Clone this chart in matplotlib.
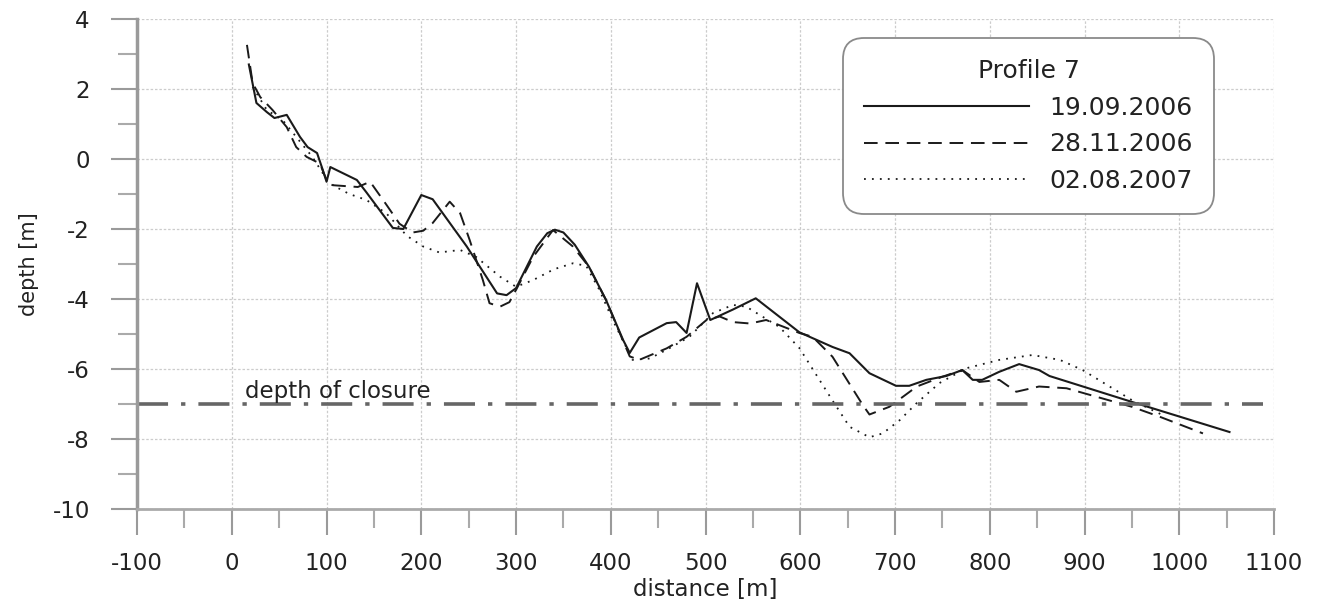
import numpy as np
import matplotlib
matplotlib.use("Agg")
import matplotlib.pyplot as plt
from matplotlib.ticker import MultipleLocator

plt.rcParams["axes.unicode_minus"] = False

# beach profile 7 - three surveys
dist_1 = [18, 26, 37, 45, 58, 72, 80, 90, 96, 100, 104, 132, 142, 170, 181, 200, 212,
          248, 280, 290, 300, 322, 333, 341, 350, 362, 377, 395, 413, 420, 430, 459, 469,
          480, 491, 505, 529, 553, 599, 634, 652, 673, 701, 715, 733, 754, 771, 782, 792,
          810, 831, 852, 863, 950, 1053]
depth_1 = [2.7, 1.6, 1.34, 1.17, 1.26, 0.63, 0.34, 0.17, -0.31, -0.65, -0.23, -0.6, -0.95,
           -1.97, -2.0, -1.03, -1.15, -2.5, -3.84, -3.89, -3.69, -2.5, -2.12, -2.02, -2.1,
           -2.45, -3.08, -4.03, -5.17, -5.54, -5.1, -4.69, -4.66, -4.97, -3.55, -4.6, -4.3,
           -3.98, -4.95, -5.37, -5.55, -6.12, -6.48, -6.48, -6.31, -6.2, -6.03, -6.31,
           -6.31, -6.08, -5.86, -6.03, -6.2, -6.94, -7.8]

dist_2 = [16, 22, 30, 43, 58, 68, 79, 93, 100, 107, 133, 146, 163, 177, 191, 202, 212,
          230, 241, 251, 265, 272, 283, 293, 300, 318, 339, 360, 377, 395, 413, 420, 430,
          459, 480, 501, 515, 529, 547, 564, 599, 613, 634, 666, 673, 694, 723, 750, 771,
          789, 810, 828, 852, 881, 950, 979, 1025]
depth_2 = [3.26, 2.17, 1.77, 1.4, 0.91, 0.34, 0.06, -0.13, -0.6, -0.75, -0.8, -0.65, -1.3,
           -1.85, -2.1, -2.05, -1.83, -1.22, -1.55, -2.31, -3.46, -4.12, -4.22, -4.09,
           -3.74, -2.8, -2.03, -2.5, -3.08, -4.03, -5.2, -5.64, -5.74, -5.41, -5.08, -4.6,
           -4.5, -4.66, -4.7, -4.6, -4.97, -5.08, -5.65, -7.03, -7.3, -7.08, -6.5, -6.22,
           -6.03, -6.37, -6.31, -6.65, -6.5, -6.55, -7.08, -7.36, -7.84]

dist_3 = [22, 37, 54, 85, 103, 124, 142, 163, 185, 202, 219, 241, 258, 283, 300, 318,
          340, 360, 374, 388, 402, 423, 441, 459, 483, 508, 529, 543, 578, 599, 634, 652,
          673, 687, 705, 723, 747, 775, 810, 845, 874, 898, 950, 985]
depth_3 = [2.06, 1.4, 1.1, 0.06, -0.7, -1.0, -1.17, -1.55, -2.2, -2.5, -2.67, -2.6, -2.8,
           -3.36, -3.65, -3.46, -3.15, -2.98, -3.05, -3.74, -4.6, -5.74, -5.7, -5.45,
           -5.08, -4.4, -4.17, -4.22, -4.8, -5.4, -6.9, -7.65, -7.95, -7.84, -7.46, -6.97,
           -6.4, -5.98, -5.74, -5.6, -5.74, -6.03, -6.89, -7.35]

labels = ["19.09.2006", "28.11.2006", "02.08.2007"]
closure_depth = -7
closure_x = [-100, 1088]

fs = 16.5
txt = "#222222"

fig = plt.figure(figsize=(13.19, 6.08), dpi=100)
ax = fig.add_axes([0.1039, 0.1628, 0.862, 0.806])

ax.plot(dist_1, depth_1, color="#1a1a1a", lw=1.5, ls="-", label=labels[0])
ax.plot(dist_2, depth_2, color="#1a1a1a", lw=1.4, dashes=(7, 4), label=labels[1])
ax.plot(dist_3, depth_3, color="#1a1a1a", lw=1.3, dashes=(1, 3.4), label=labels[2])

ax.plot(closure_x, [closure_depth, closure_depth], color="#666666", lw=2.6,
        dashes=(8.6, 3.6, 1.2, 3.6))
ax.text(14, -6.83, "depth of closure", fontsize=fs, color=txt, va="baseline")

ax.set_xlim(-100, 1100)
ax.set_ylim(-10, 4)
ax.xaxis.set_major_locator(MultipleLocator(100))
ax.xaxis.set_minor_locator(MultipleLocator(50))
ax.yaxis.set_major_locator(MultipleLocator(2))
ax.yaxis.set_minor_locator(MultipleLocator(1))

ax.grid(True, which="major", color="#cccccc", lw=0.9, ls=(0, (2, 1.5)))
ax.set_axisbelow(True)

for s in ["top", "right"]:
    ax.spines[s].set_visible(False)
ax.spines["left"].set_color("#9a9a9a")
ax.spines["left"].set_linewidth(2.5)
ax.spines["bottom"].set_color("#aaaaaa")
ax.spines["bottom"].set_linewidth(2)

ax.tick_params(which="major", direction="out", length=19, width=1.5, color="#9a9a9a",
               labelsize=fs, labelcolor=txt)
ax.tick_params(axis="y", which="major", pad=15)
ax.tick_params(axis="x", which="major", pad=12)
ax.tick_params(which="minor", direction="out", length=14, width=1.5, color="#aaaaaa")

ax.set_xlabel("distance [m]", fontsize=fs, color=txt, labelpad=2)
ax.set_ylabel("depth [m]", fontsize=15, color=txt, labelpad=10)

leg = ax.legend(title="Profile 7", loc="upper left", bbox_to_anchor=(0.621, 0.961),
                fontsize=18, title_fontsize=18, handlelength=6.6, handletextpad=0.8,
                labelspacing=0.5, borderpad=0.85, borderaxespad=0, fancybox=True,
                framealpha=1, edgecolor="#8a8a8a")
leg.get_frame().set_boxstyle("round", pad=0, rounding_size=0.85)
leg.get_frame().set_linewidth(1.3)
for t in leg.get_texts():
    t.set_color(txt)
leg.get_title().set_color(txt)

plt.savefig("out.png", dpi=100)
